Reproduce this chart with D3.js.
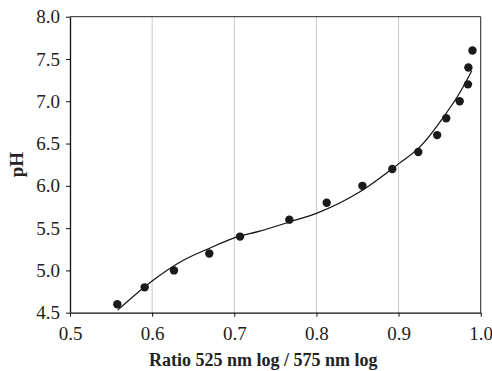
<!DOCTYPE html>
<html><head><meta charset="utf-8">
<script src="https://cdn.jsdelivr.net/npm/d3@7"></script>
<style>
html,body{margin:0;padding:0;background:#fff;}
svg{display:block;}
</style></head>
<body>
<script>
// Data
const ratio = [0.5576, 0.5909, 0.6266, 0.6696, 0.707, 0.767, 0.8125, 0.856, 0.8924, 0.924, 0.947, 0.958, 0.9744, 0.9845, 0.985, 0.990];
const pH    = [4.6, 4.8, 5.0, 5.2, 5.4, 5.6, 5.8, 6.0, 6.2, 6.4, 6.6, 6.8, 7.0, 7.2, 7.4, 7.6];
// fitted trend line, read at points along the curve
const fitRatio = [0.558, 0.6, 0.638, 0.667, 0.7, 0.731, 0.768, 0.8, 0.853, 0.9, 0.926, 0.9545, 0.975, 0.989];
const fitPH    = [4.53, 4.875, 5.12, 5.25, 5.385, 5.465, 5.575, 5.675, 5.93, 6.26, 6.46, 6.81, 7.11, 7.36];
const xTicks = [0.5, 0.6, 0.7, 0.8, 0.9, 1.0];
const yTicks = [4.5, 5.0, 5.5, 6.0, 6.5, 7.0, 7.5, 8.0];

const W = 492, H = 371;
const m = {left: 70, top: 16.7, right: 492 - 480.7, bottom: 371 - 312.7};
const svg = d3.select("body").append("svg").attr("width", W).attr("height", H);
const x = d3.scaleLinear().domain([0.5, 1.0]).range([m.left, W - m.right]);
const y = d3.scaleLinear().domain([4.5, 8.0]).range([H - m.bottom, m.top]);

// gridlines
svg.append("g").selectAll("line").data(xTicks.slice(1, -1)).join("line")
  .attr("x1", d => x(d)).attr("x2", d => x(d))
  .attr("y1", y(8.0)).attr("y2", y(4.5))
  .attr("stroke", "#c8c8c8").attr("stroke-width", 1);

// frame top/right
svg.append("line").attr("x1", x(0.5)).attr("x2", x(1.0)).attr("y1", y(8.0)).attr("y2", y(8.0)).attr("stroke", "#222");
svg.append("line").attr("x1", x(1.0)).attr("x2", x(1.0)).attr("y1", y(8.0)).attr("y2", y(4.5)).attr("stroke", "#222");

const fontTick = "'Liberation Serif', 'Times New Roman', serif";
const xAxis = svg.append("g").attr("transform", `translate(0,${y(4.5)})`)
  .call(d3.axisBottom(x).tickValues(xTicks).tickFormat(d3.format(".1f")).tickSize(4).tickPadding(10).tickSizeOuter(0));
const yAxis = svg.append("g").attr("transform", `translate(${x(0.5)},0)`)
  .call(d3.axisLeft(y).tickValues(yTicks).tickFormat(d3.format(".1f")).tickSize(4).tickPadding(6).tickSizeOuter(0));
[xAxis, yAxis].forEach(g => {
  g.attr("font-family", fontTick);
  g.select(".domain").attr("stroke", "#111").attr("stroke-width", 1.3);
  g.selectAll(".tick line").attr("stroke", "#111");
  g.selectAll("text").attr("font-family", fontTick).attr("font-size", 19).attr("fill", "#222");
});

// fit line
const fit = fitRatio.map((r, i) => [r, fitPH[i]]);
svg.append("path").datum(fit)
  .attr("d", d3.line().x(d => x(d[0])).y(d => y(d[1])).curve(d3.curveMonotoneX))
  .attr("fill", "none").attr("stroke", "#111").attr("stroke-width", 1.2);

// points
svg.append("g").selectAll("circle").data(ratio.map((r, i) => [r, pH[i]])).join("circle")
  .attr("cx", d => x(d[0])).attr("cy", d => y(d[1])).attr("r", 4.2).attr("fill", "#1a1a1a");

// axis titles
svg.append("text").attr("x", (x(0.5) + x(1.0)) / 2 - 12).attr("y", 366)
  .attr("text-anchor", "middle").attr("font-family", fontTick).attr("font-weight", "bold")
  .attr("font-size", 18).attr("fill", "#222").text("Ratio 525 nm log / 575 nm log");
svg.append("text").attr("transform", `translate(23,${(y(8)+y(4.5))/2}) rotate(-90)`)
  .attr("text-anchor", "middle").attr("font-family", fontTick).attr("font-weight", "bold")
  .attr("font-size", 19).attr("fill", "#222").text("pH");
</script>
</body></html>
